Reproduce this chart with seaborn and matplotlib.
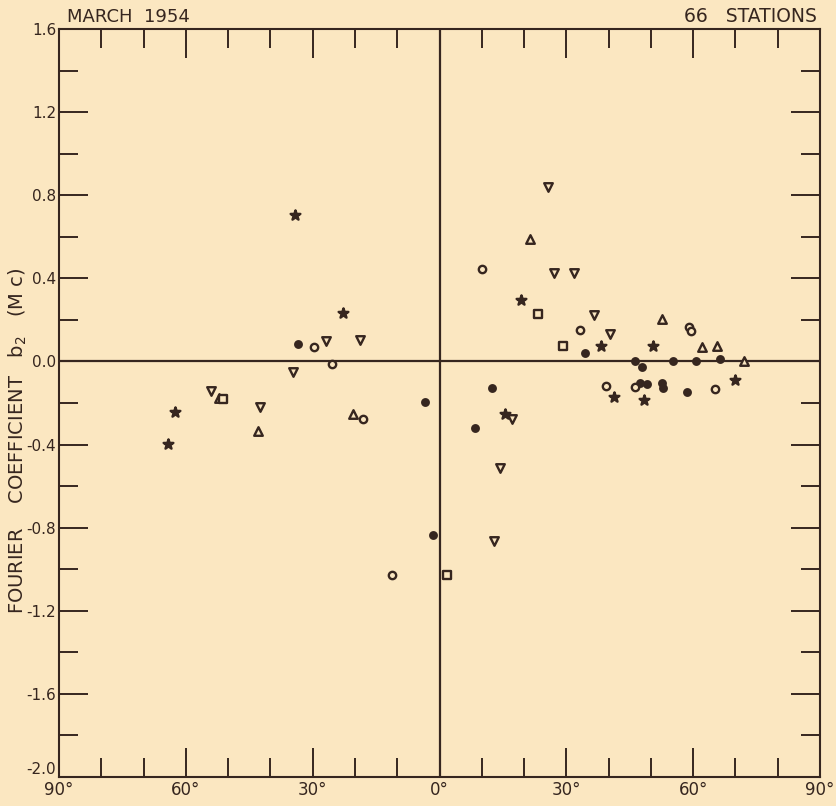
# Fourier coefficient b2 against latitude, March 1954 (66 stations)
import pandas as pd
import seaborn as sns
import matplotlib.pyplot as plt
from matplotlib.ticker import MultipleLocator

##########
## DATA ##
##########
# latitude in degrees (south negative), b2 in Mc, one pair of lists per symbol
star_lat = [-64.1, -62.6, -34.2, -22.8, 15.5, 19.3, 38.1, 41.3, 48.4, 50.6, 70.0]
star_b2 = [-0.397, -0.245, 0.705, 0.232, -0.254, 0.296, 0.075, -0.172, -0.185, 0.073, -0.089]

dot_lat = [-33.5, -3.4, -1.6, 8.3, 12.3, 34.3, 46.2, 47.4, 47.8, 49.0, 52.6, 52.9, 55.2, 58.5, 60.6, 66.3]
dot_b2 = [0.086, -0.195, -0.837, -0.32, -0.128, 0.039, 0.0, -0.102, -0.028, -0.11, -0.105, -0.129, 0.0, -0.148, 0.0, 0.012]

circle_lat = [-29.8, -25.5, -18.2, -11.2, 10.1, 33.2, 39.5, 46.2, 58.9, 59.5, 65.1]
circle_b2 = [0.07, -0.01, -0.275, -1.03, 0.447, 0.152, -0.118, -0.121, 0.168, 0.147, -0.134]

down_lat = [-54.0, -42.4, -34.7, -26.9, -18.7, 13.0, 14.3, 17.1, 25.6, 27.0, 31.8, 36.5, 40.4]
down_b2 = [-0.142, -0.217, -0.049, 0.097, 0.105, -0.862, -0.514, -0.275, 0.841, 0.426, 0.426, 0.224, 0.132]

up_lat = [-52.1, -43.0, -20.5, 21.5, 52.7, 62.2, 65.6, 72.1]
up_b2 = [-0.174, -0.336, -0.253, 0.591, 0.205, 0.071, 0.076, 0.002]

square_lat = [-51.1, 1.8, 23.2, 29.2]
square_b2 = [-0.182, -1.03, 0.227, 0.075]

x_ticks = [-90, -60, -30, 0, 30, 60, 90]
x_labels = ["90°", "60°", "30°", "0°", "30°", "60°", "90°"]
y_ticks = [1.6, 1.2, 0.8, 0.4, 0.0, -0.4, -0.8, -1.2, -1.6, -2.0]
y_labels = ["1.6", "1.2", "0.8", "0.4", "0.0", "-0.4", "-0.8", "-1.2", "-1.6", "-2.0"]

paper = "#FBE7C1"
ink = "#36261f"

###########
## SETUP ##
###########
sns.set_style("ticks")
plt.rcParams['font.family'] = ['DejaVu Sans']

fig = plt.figure(figsize=(8.36, 8.06), dpi=100, facecolor=paper)
ax = fig.add_axes([59 / 836, 1 - 777 / 806, 761 / 836, 748 / 806])
ax.set_facecolor(paper)

###########
## MARKS ##
###########
# open symbols get the paper colour inside, filled ones are solid ink
groups = [
    (star_lat, star_b2, "*", ink, 55),
    (dot_lat, dot_b2, "o", ink, 22),
    (circle_lat, circle_b2, "o", paper, 28),
    (down_lat, down_b2, "v", paper, 38),
    (up_lat, up_b2, "^", paper, 38),
    (square_lat, square_b2, "s", paper, 26),
]
for lat, b2, mk, face, size in groups:
    df = pd.DataFrame({"lat": lat, "b2": b2})
    sns.scatterplot(data=df, x="lat", y="b2", marker=mk, s=size, color=face,
                    edgecolor=ink, linewidth=1.7, ax=ax, zorder=3)

# the cross through the origin
ax.axhline(0, color=ink, lw=1.6, zorder=2)
ax.axvline(0, color=ink, lw=1.6, zorder=2)

##########
## AXES ##
##########
ax.set_xlim(-90, 90)
ax.set_ylim(-2.0, 1.6)
ax.set_xticks(x_ticks)
ax.set_xticklabels(x_labels, fontsize=12, color=ink)
ax.set_yticks(y_ticks)
ax.set_yticklabels(y_labels, fontsize=11, color=ink)
ax.get_yticklabels()[-1].set_va("bottom")
ax.xaxis.set_minor_locator(MultipleLocator(10))
ax.yaxis.set_minor_locator(MultipleLocator(0.2))
ax.tick_params(which="both", direction="in", top=True, right=True, color=ink, width=1.4)
ax.tick_params(which="major", length=21)
ax.tick_params(which="minor", length=14)
ax.tick_params(axis="x", pad=3)
ax.tick_params(axis="y", pad=2)
for sp in ax.spines.values():
    sp.set_color(ink)
    sp.set_linewidth(1.5)

ax.set_xlabel("")
ax.set_ylabel("FOURIER    COEFFICIENT   b$_2$   (M c)", fontsize=14, color=ink)
ax.yaxis.set_label_coords(-0.04, 0.45)

fig.text(67 / 836, 1 - 17 / 806, "MARCH  1954", fontsize=13, color=ink, ha="left", va="center")
fig.text(817 / 836, 1 - 17 / 806, "66   STATIONS", fontsize=13.5, color=ink, ha="right", va="center")

plt.savefig("out.png", dpi=100, facecolor=paper)
